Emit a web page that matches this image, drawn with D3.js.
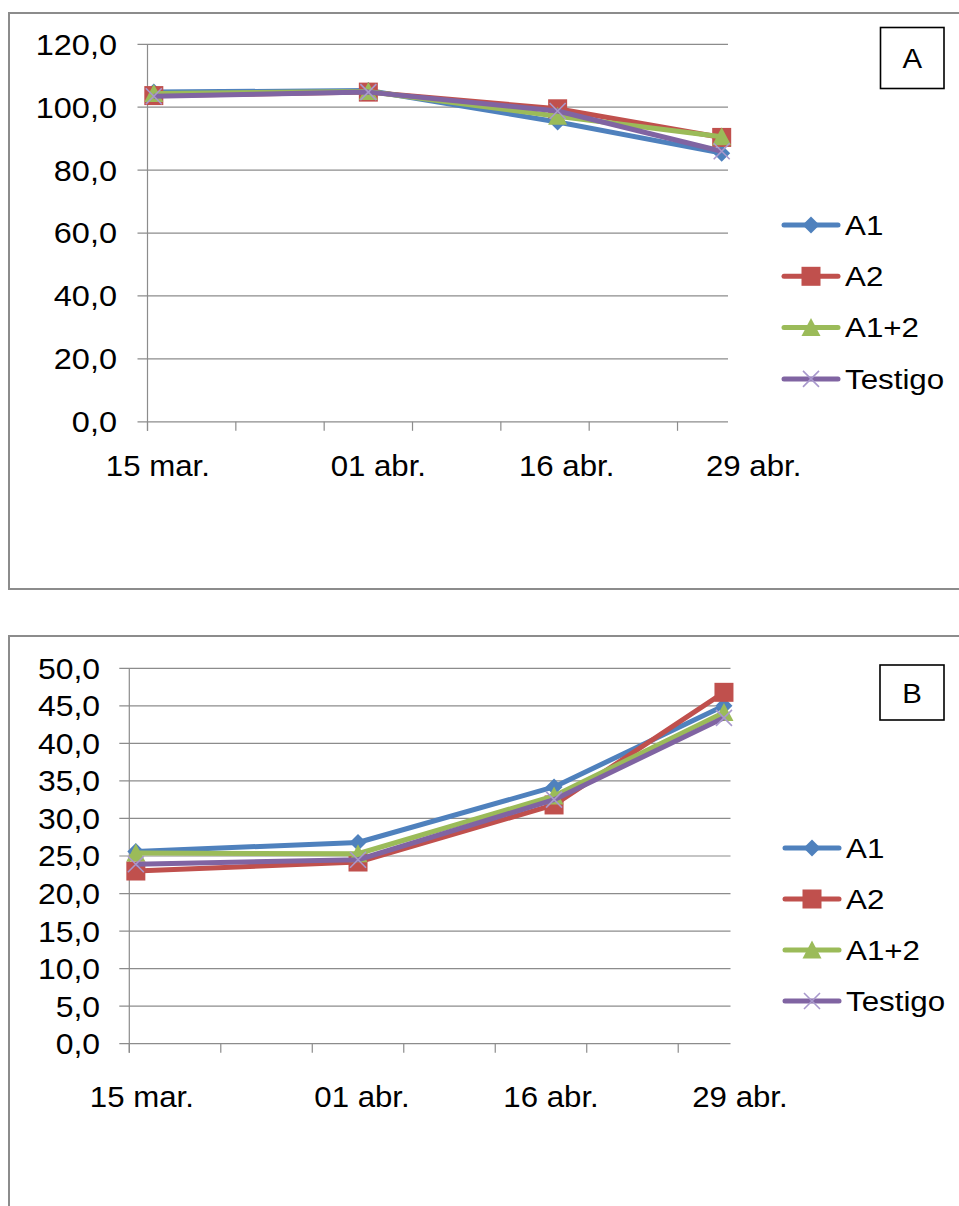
<!DOCTYPE html>
<html>
<head>
<meta charset="utf-8">
<script src="https://cdn.jsdelivr.net/npm/d3@7"></script>
<style>
  html, body { margin: 0; padding: 0; background: #fff; }
  svg { display: block; }
  text { font-family: "Liberation Sans", Arial, sans-serif; fill: #000; }
</style>
</head>
<body>
<svg id="chart" width="959" height="1206"></svg>
<script>
// Sampling dates and their axis labels
const dates = ["2012-03-15", "2012-04-01", "2012-04-16", "2012-04-29"];
const dateLabels = ["15 mar.", "01 abr.", "16 abr.", "29 abr."];
const seriesNames = ["A1", "A2", "A1+2", "Testigo"];

// Panel A values
const aA1      = [104.8, 105.3, 95.3, 85.4];
const aA2      = [103.7, 104.8, 99.5, 90.4];
const aA12     = [104.4, 105.0, 97.1, 90.6];
const aTestigo = [103.5, 104.8, 98.8, 86.0];
const aTicks   = [0, 20, 40, 60, 80, 100, 120];

// Panel B values
const bA1      = [25.6, 26.8, 34.2, 45.0];
const bA2      = [23.0, 24.2, 31.8, 46.8];
const bA12     = [25.4, 25.3, 33.0, 44.1];
const bTestigo = [23.9, 24.5, 32.5, 43.4];
const bTicks   = [0, 5, 10, 15, 20, 25, 30, 35, 40, 45, 50];

const colors = ["#4F81BD", "#C0504D", "#9BBB59", "#8064A2"];
const xMarkColor = "#A898CC";
const gridColor = "#8C8C8C";

const parse = d3.utcParse("%Y-%m-%d");
const fmt = v => d3.format(".1f")(v).replace(".", ",");

const svg = d3.select("#chart");

// text with a slight horizontal stretch
function stext(g, x, y, str, size, sx, anchor) {
  return g.append("text")
    .attr("transform", `translate(${x},${y}) scale(${sx},1)`)
    .attr("text-anchor", anchor)
    .attr("font-size", size)
    .text(str);
}

function marker(g, kind, cx, cy, color) {
  if (kind === 0) {
    const r = 8.5;
    g.append("path").attr("d", `M${cx},${cy - r}L${cx + r},${cy}L${cx},${cy + r}L${cx - r},${cy}Z`)
      .attr("fill", color);
  } else if (kind === 1) {
    const s = 19;
    g.append("rect").attr("x", cx - s / 2).attr("y", cy - s / 2).attr("width", s).attr("height", s)
      .attr("fill", color);
  } else if (kind === 2) {
    const w = 19, h = 17;
    g.append("path").attr("d", `M${cx},${cy - h / 2 - 1}L${cx + w / 2},${cy + h / 2}L${cx - w / 2},${cy + h / 2}Z`)
      .attr("fill", color);
  } else {
    const r = 8;
    g.append("path").attr("d", `M${cx - r},${cy - r}L${cx + r},${cy + r}M${cx + r},${cy - r}L${cx - r},${cy + r}`)
      .attr("stroke", xMarkColor).attr("stroke-width", 1.6).attr("fill", "none");
  }
}

function drawPanel(cfg) {
  const g = svg.append("g");

  // outer frame
  g.append("rect").attr("x", cfg.frame[0]).attr("y", cfg.frame[1])
    .attr("width", cfg.frame[2]).attr("height", cfg.frame[3])
    .attr("fill", "#fff").attr("stroke", gridColor).attr("stroke-width", 2);

  const start = parse(dates[0]);
  const end = d3.utcDay.offset(parse(dates[dates.length - 1]), 1);
  const x = d3.scaleUtc().domain([start, end]).range([cfg.left, cfg.right]);
  const y = d3.scaleLinear().domain([0, cfg.yMax]).range([cfg.bottom, cfg.top]);
  // points sit in the middle of their day
  const px = d => x(d3.utcHour.offset(parse(d), 12));

  // horizontal gridlines + y tick marks
  g.selectAll(null).data(cfg.ticks).join("line")
    .attr("x1", cfg.left - 10).attr("x2", cfg.right)
    .attr("y1", d => y(d)).attr("y2", d => y(d))
    .attr("stroke", gridColor).attr("stroke-width", 1.2);

  // y axis line
  g.append("line").attr("x1", cfg.left).attr("x2", cfg.left)
    .attr("y1", cfg.top).attr("y2", cfg.bottom + 9)
    .attr("stroke", gridColor).attr("stroke-width", 1.2);

  // x tick marks every 7 days
  const weekTicks = d3.range(0, 43, 7).map(k => d3.utcDay.offset(start, k));
  g.selectAll(null).data(weekTicks).join("line")
    .attr("x1", d => x(d)).attr("x2", d => x(d))
    .attr("y1", cfg.bottom).attr("y2", cfg.bottom + 9)
    .attr("stroke", gridColor).attr("stroke-width", 1.2);

  // y labels
  cfg.ticks.forEach(t => {
    stext(g, cfg.yLabelRight, y(t) + cfg.yFont * 0.36, fmt(t), cfg.yFont, cfg.yStretch, "end");
  });

  // x labels
  dates.forEach((d, i) => {
    stext(g, px(d) + cfg.labelDx[i], cfg.bottom + cfg.xLabelDy, dateLabels[i], 30, 1.04, "middle");
  });

  // series
  const line = d3.line().x((v, i) => px(dates[i])).y(v => y(v));
  cfg.series.forEach((vals, s) => {
    g.append("path").attr("d", line(vals)).attr("fill", "none")
      .attr("stroke", colors[s]).attr("stroke-width", 5).attr("stroke-linejoin", "round");
    vals.forEach((v, i) => marker(g, s, px(dates[i]), y(v), colors[s]));
  });

  // legend
  seriesNames.forEach((name, s) => {
    const ly = cfg.legY + s * cfg.legStep;
    g.append("line").attr("x1", cfg.legX).attr("x2", cfg.legX + 54)
      .attr("y1", ly).attr("y2", ly)
      .attr("stroke", colors[s]).attr("stroke-width", 5).attr("stroke-linecap", "round");
    marker(g, s, cfg.legX + 27, ly, colors[s]);
    stext(g, cfg.legX + 61, ly + 27 * 0.36, name, 27, 1.16, "start");
  });

  // panel letter box
  const b = cfg.box;
  g.append("rect").attr("x", b[0]).attr("y", b[1]).attr("width", b[2]).attr("height", b[3])
    .attr("fill", "#fff").attr("stroke", "#000").attr("stroke-width", 1.6);
  stext(g, b[0] + b[2] / 2, b[1] + b[3] / 2 + 28 * 0.36, cfg.letter, 28, 1.05, "middle");
}

drawPanel({
  frame: [9, 13, 960, 576],
  left: 147.5, right: 728, top: 44.3, bottom: 421.8,
  yMax: 120, ticks: aTicks, yFont: 29, yStretch: 1.12, yLabelRight: 117,
  xLabelDy: 54, labelDx: [4, 10, 9, 32],
  series: [aA1, aA2, aA12, aTestigo],
  legX: 784, legY: 225, legStep: 51.3,
  box: [880.5, 27.5, 63.5, 61], letter: "A"
});

drawPanel({
  frame: [9, 636, 960, 600],
  left: 129.3, right: 730.5, top: 668.3, bottom: 1043.7,
  yMax: 50, ticks: bTicks, yFont: 29, yStretch: 1.1, yLabelRight: 100,
  xLabelDy: 63, labelDx: [6, 4, -3, 16],
  series: [bA1, bA2, bA12, bTestigo],
  legX: 785, legY: 848, legStep: 51,
  box: [880, 665, 64, 55], letter: "B"
});
</script>
</body>
</html>
